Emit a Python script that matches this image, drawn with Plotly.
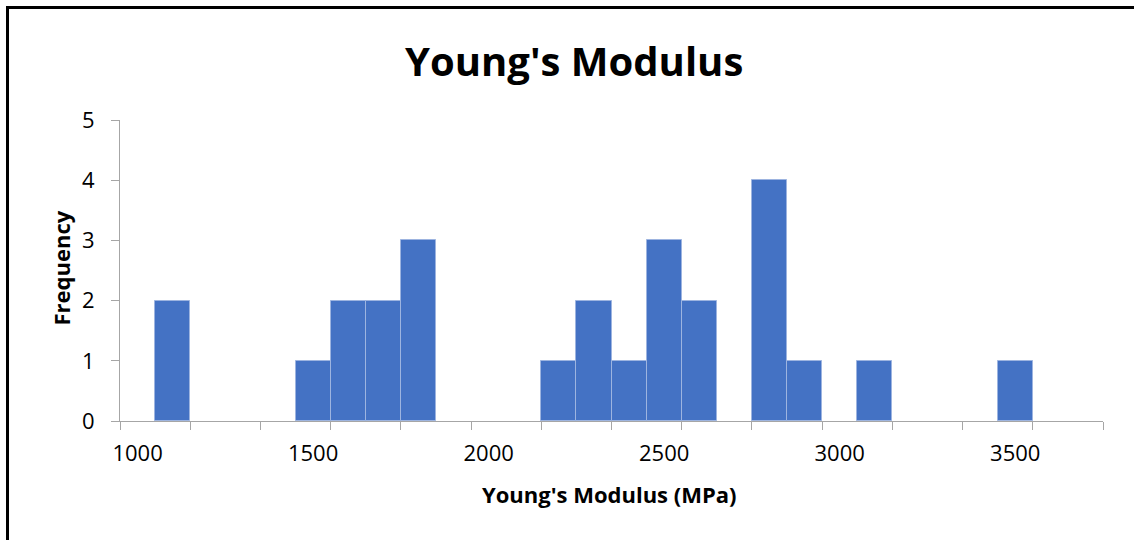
import plotly.graph_objects as go

# Bin labels (MPa) and frequencies
bins = [1000, 1100, 1200, 1300, 1400, 1500, 1600, 1700, 1800, 1900,
        2000, 2100, 2200, 2300, 2400, 2500, 2600, 2700, 2800, 2900,
        3000, 3100, 3200, 3300, 3400, 3500, 3600, 3700]
freq = [0, 2, 0, 0, 0, 1, 2, 2, 3, 0,
        0, 0, 1, 2, 1, 3, 2, 0, 4, 1,
        0, 1, 0, 0, 0, 1, 0, 0]
label_vals = [1000, 1500, 2000, 2500, 3000, 3500]
y_ticks = [0, 1, 2, 3, 4, 5]

FONT = "Open Sans"
AXIS_COL = "#a6a6a6"

fig = go.Figure()
fig.add_trace(go.Bar(
    x=bins, y=freq, width=100,
    marker=dict(color="#4472C4",
                line=dict(color="#9db4e0", width=[1 if f > 0 else 0 for f in freq])),
    showlegend=False, hoverinfo="x+y",
))
# invisible trace for the tick-mark axis
fig.add_trace(go.Scatter(x=[bins[0]], y=[0], xaxis="x2", mode="markers",
                         marker=dict(opacity=0), showlegend=False, hoverinfo="skip"))

xr = [bins[0] - 50, bins[-1] + 50]
tick_marks = list(range(bins[0] - 50, bins[-1] + 51, 200))

fig.update_layout(
    width=1134, height=540,
    margin=dict(l=120, r=31, t=120, b=119),
    paper_bgcolor="white", plot_bgcolor="white",
    bargap=0,
    font=dict(family=FONT, color="black"),
    xaxis=dict(range=xr, tickvals=label_vals, ticktext=[str(v) for v in label_vals],
               ticks="outside", ticklen=8, tickcolor="rgba(0,0,0,0)",
               showline=True, linecolor=AXIS_COL, linewidth=1,
               showgrid=False, zeroline=False,
               tickfont=dict(size=22, family=FONT), ticklabelstandoff=5,
               fixedrange=True),
    xaxis2=dict(range=xr, overlaying="x", side="bottom", tickvals=tick_marks,
                showticklabels=False, ticks="outside", ticklen=8, tickcolor=AXIS_COL,
                tickwidth=1, showline=False, showgrid=False, zeroline=False),
    yaxis=dict(range=[0, 5], tickvals=y_ticks, ticks="outside", ticklen=8,
               tickcolor=AXIS_COL, showline=True, linecolor=AXIS_COL, linewidth=1,
               showgrid=False, zeroline=False, tickfont=dict(size=22, family=FONT),
               ticklabelstandoff=12),
    annotations=[
        dict(text="<b>Young's Modulus</b>", xref="paper", yref="paper",
             x=(573.5 - 120) / 983, y=(421 - 60) / 301, xanchor="center", yanchor="middle",
             showarrow=False, font=dict(size=40, family=FONT)),
        dict(text="<b>Young's Modulus (MPa)</b>", xref="paper", yref="paper",
             x=(609 - 120) / 983, y=(421 - 494) / 301, xanchor="center", yanchor="middle",
             showarrow=False, font=dict(size=22, family=FONT)),
        dict(text="<b>Frequency</b>", xref="paper", yref="paper",
             x=(60 - 120) / 983, y=(421 - 268.5) / 301, xanchor="center", yanchor="middle",
             textangle=-90, showarrow=False, font=dict(size=22, family=FONT)),
    ],
    shapes=[
        dict(type="line", xref="paper", yref="paper",
             x0=(7.5 - 120) / 983, x1=(7.5 - 120) / 983,
             y0=(421 - 6) / 301, y1=(421 - 560) / 301,
             line=dict(color="black", width=3)),
        dict(type="line", xref="paper", yref="paper",
             x0=(6 - 120) / 983, x1=(1140 - 120) / 983,
             y0=(421 - 7.5) / 301, y1=(421 - 7.5) / 301,
             line=dict(color="black", width=3)),
    ],
)

fig.write_html("out.html", config={"displayModeBar": False},
               post_script="document.body.style.margin='0px';document.body.style.overflow='hidden';")
